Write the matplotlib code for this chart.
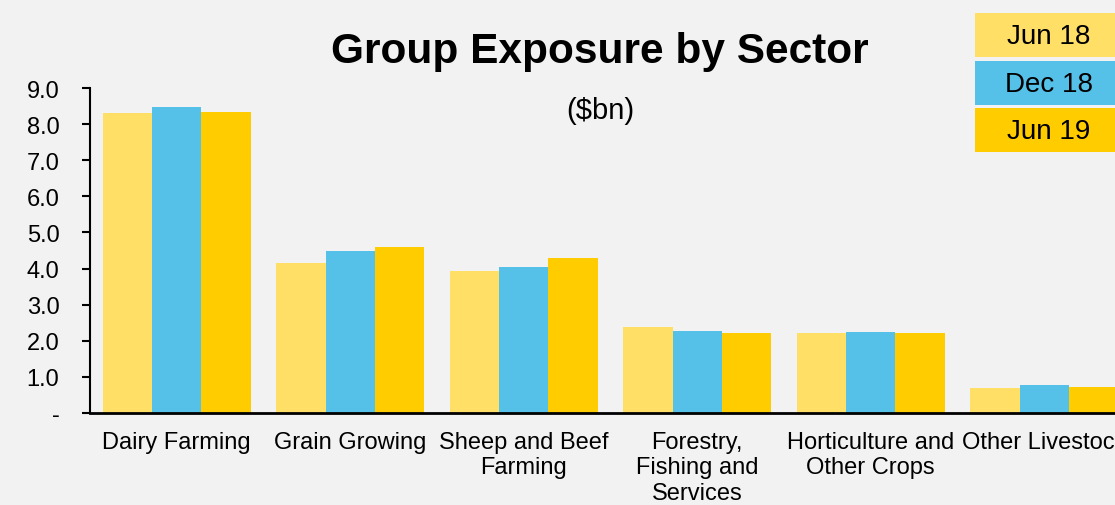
import numpy as np
import matplotlib.pyplot as plt
from matplotlib.patches import Rectangle

plt.rcParams['font.family'] = ['Liberation Sans', 'DejaVu Sans']

# data ($bn)
sectors = ["Dairy Farming", "Grain Growing", "Sheep and Beef\nFarming",
           "Forestry,\nFishing and\nServices", "Horticulture and\nOther Crops",
           "Other Livestock"]
periods = ["Jun 18", "Dec 18", "Jun 19"]
jun18 = [8.31, 4.16, 3.93, 2.38, 2.22, 0.69]
dec18 = [8.48, 4.49, 4.04, 2.27, 2.24, 0.78]
jun19 = [8.34, 4.60, 4.29, 2.22, 2.22, 0.72]
yticks = [0, 1, 2, 3, 4, 5, 6, 7, 8, 9]
ytick_labels = ["-", "1.0", "2.0", "3.0", "4.0", "5.0", "6.0", "7.0", "8.0", "9.0"]

colors = ["#FFDF66", "#55C1E8", "#FFCC00"]
bg = "#F2F2F2"

W, H = 1115, 506
fig = plt.figure(figsize=(W / 100, H / 100), dpi=100, facecolor=bg)
ax = fig.add_axes([90 / W, 92 / H, 1041 / W, 325 / H])
ax.set_facecolor(bg)

x = np.arange(len(sectors))
bw = 0.285
for i, (vals, c) in enumerate(zip([jun18, dec18, jun19], colors)):
    ax.bar(x + (i - 1) * bw, vals, width=bw, color=c, edgecolor="none")

ax.set_xlim(-0.5, len(sectors) - 0.5)
ax.set_ylim(0, 9)
ax.set_yticks(yticks)
ax.set_yticklabels(ytick_labels, fontsize=17)
ax.set_xticks(x)
ax.set_xticklabels(sectors, fontsize=17, linespacing=1.2, va="top")
ax.tick_params(axis="x", length=0, pad=13)
ax.tick_params(axis="y", direction="out", length=6, width=1.5, pad=16)
for s in ["top", "right"]:
    ax.spines[s].set_visible(False)
ax.spines["left"].set_linewidth(1.5)
ax.spines["bottom"].set_linewidth(2)

fig.text(600 / W, 1 - 52 / H, "Group Exposure by Sector", fontsize=30.5,
         fontweight="bold", ha="center", va="center")
fig.text(600 / W, 1 - 111 / H, "($bn)", fontsize=21, ha="center", va="center")

# legend boxes
box_tops = [14, 62, 109]
for lab, c, top in zip(periods, colors, box_tops):
    fig.patches.append(Rectangle((975 / W, 1 - (top + 44) / H), 148 / W, 44 / H,
                                 transform=fig.transFigure, facecolor=c,
                                 edgecolor="none"))
    fig.text(1049 / W, 1 - (top + 23) / H, lab, fontsize=20, ha="center", va="center")

fig.savefig("out.png", dpi=100, facecolor=bg)
